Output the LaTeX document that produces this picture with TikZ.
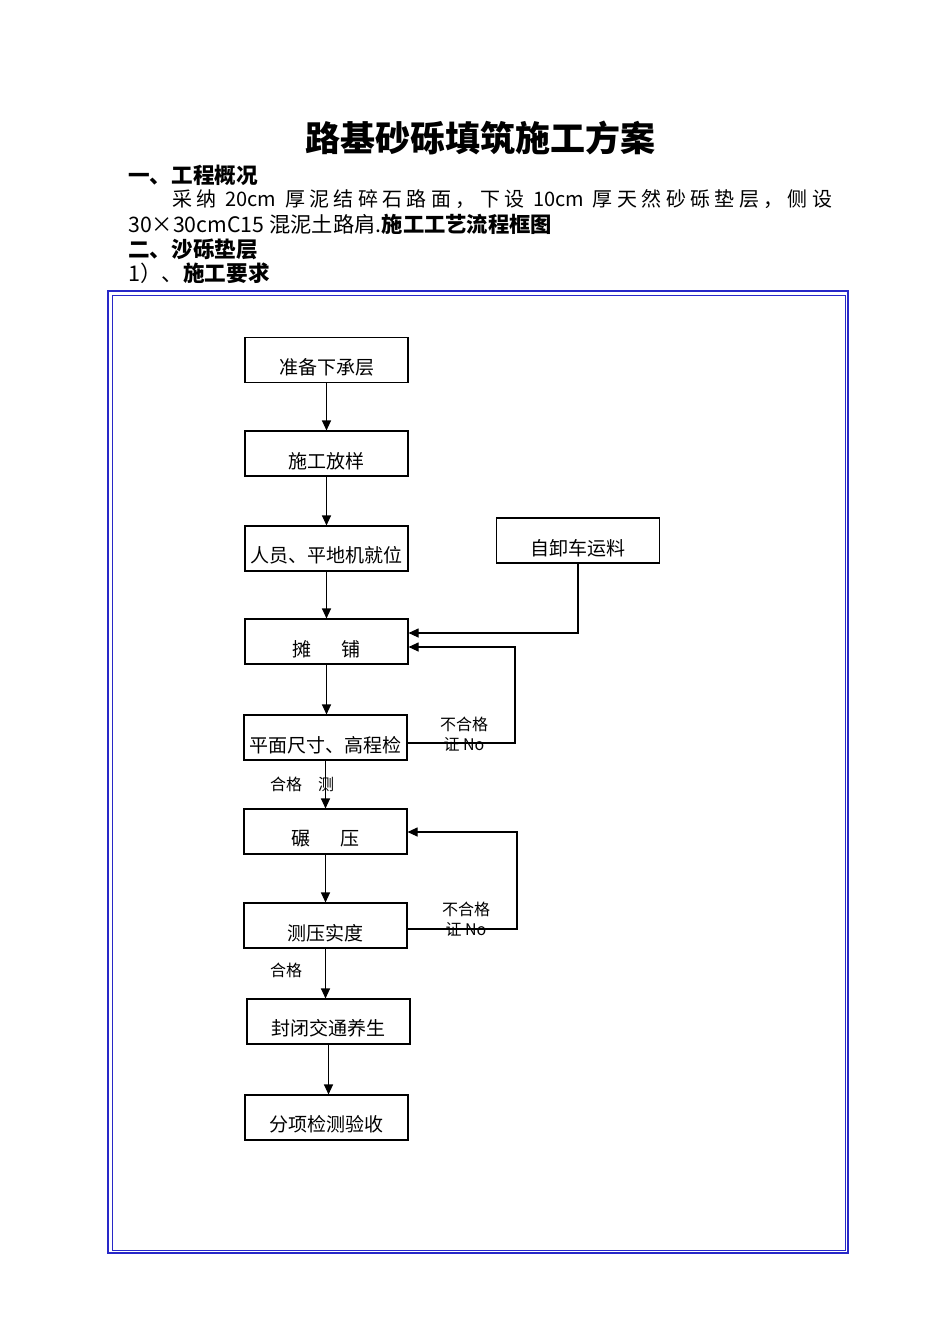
\documentclass[tikz,border=0pt]{standalone}
\usepackage{fontspec}
\setmainfont{Noto Sans CJK SC}
\usetikzlibrary{arrows.meta,calc}
\definecolor{frameblue}{RGB}{40,40,200}
\begin{document}
\begin{tikzpicture}[x=1pt,y=-1pt,
  box/.style={draw,line width=1.1pt,minimum width=163pt,minimum height=45pt,inner sep=0pt},
  lbl/.style={font=\fontsize{19}{19}\selectfont,inner sep=0pt},
  small/.style={font=\fontsize{16}{16}\selectfont,inner sep=0pt},
  arr/.style={line width=1.1pt,-{Triangle[length=10pt,width=9pt]}},
  ln/.style={line width=1.1pt},
  hd/.style={font=\fontsize{21.6}{21.6}\selectfont\bfseries,inner sep=0pt,anchor=west},
  body/.style={font=\fontsize{20}{20}\selectfont,inner sep=0pt,anchor=west},
]
\useasboundingbox (0,0) rectangle (950,1344);

% header
\node[font=\fontsize{35}{35}\selectfont\bfseries,inner sep=0pt] (title) at (480,138) {路基砂砾填筑施工方案};
\node[hd] (h1) at (128,175) {一、工程概况};
\node[body] (p1) at (172,199) {\makebox[660pt][s]{采\hfill 纳\hfill\ 20cm\ \hfill 厚\hfill 泥\hfill 结\hfill 碎\hfill 石\hfill 路\hfill 面\hfill ，\hfill 下\hfill 设\hfill\ 10cm\ \hfill 厚\hfill 天\hfill 然\hfill 砂\hfill 砾\hfill 垫\hfill 层\hfill ，\hfill 侧\hfill 设}};
\node[body,font=\fontsize{21.3}{21.3}\selectfont] (p2) at (128,224) {30×30cmC15 混泥土路肩.\textbf{施工工艺流程框图}};
\node[hd] (h2) at (128,249) {二、沙砾垫层};
\node[hd] (h3) at (128,273) {\mdseries 1）、\bfseries 施工要求};

% frame
\draw[frameblue,line width=2pt] (108,291) rectangle (848,1253);
\draw[frameblue,line width=1pt] (112,295) rectangle (845,1250);

% boxes
\node[box] (b1) at (326.5,360) {};
\node[box] (b2) at (326.5,453.5) {};
\node[box] (b3) at (326.5,548.5) {};
\node[box] (bt) at (578,540.5) {};
\node[box] (b4) at (326.5,641.5) {};
\node[box] (b5) at (325.5,737.5) {};
\node[box] (b6) at (325.5,831.5) {};
\node[box] (b7) at (325.5,925.5) {};
\node[box] (b8) at (328.5,1021.5) {};
\node[box] (b9) at (326.5,1117.5) {};

% box texts
\node[lbl] (t1) at (326.5,367) {准备下承层};
\node[lbl] (t2) at (326.5,461) {施工放样};
\node[lbl] (t3) at (326.5,555) {人员、平地机就位};
\node[lbl] (tt) at (578,548) {自卸车运料};
\node[lbl] (t4) at (326.5,649) {摊\hspace{1.6em}铺};
\node[lbl] (t5) at (325.5,745) {平面尺寸、高程检};
\node[lbl] (t6) at (325.5,839) {碾\hspace{1.6em}压};
\node[lbl] (t7) at (325.5,933) {测压实度};
\node[lbl] (t8) at (328.5,1028) {封闭交通养生};
\node[lbl] (t9) at (326.5,1124) {分项检测验收};

% small labels
\node[small] (ok1) at (286,784) {合格};
\node[small] (ce) at (326,784) {测};
\node[small] (ok2) at (286,970) {合格};
\node[small] (ng1) at (464,724) {不合格};
\node[small] (no1) at (464,744) {证 No};
\node[small] (ng2) at (466,909) {不合格};
\node[small] (no2) at (466,929) {证 No};

% vertical arrows
\draw[arr] (b1.south) -- (b1.south |- b2.north);
\draw[arr] (b2.south) -- (b2.south |- b3.north);
\draw[arr] (b3.south) -- (b3.south |- b4.north);
\draw[arr] (b4.south) -- (b4.south |- b5.north);
\draw[arr] (b5.south) -- (b5.south |- b6.north);
\draw[arr] (b6.south) -- (b6.south |- b7.north);
\draw[arr] (b7.south) -- (b7.south |- b8.north);
\draw[arr] (b8.south) -- (b8.south |- b9.north);

% truck feed
\coordinate (c1) at (578,633);
\draw[arr] (bt.south) -- (c1) -- (b4.east |- c1);

% loop 1
\coordinate (l1a) at (515,743);
\coordinate (l1b) at (515,647);
\draw[arr] (b5.east |- l1a) -- (l1a) -- (l1b) -- (b4.east |- l1b);

% loop 2
\coordinate (l2a) at (517,929);
\coordinate (l2b) at (517,832);
\draw[arr] (b7.east |- l2a) -- (l2a) -- (l2b) -- (b6.east |- l2b);
\end{tikzpicture}
\end{document}
